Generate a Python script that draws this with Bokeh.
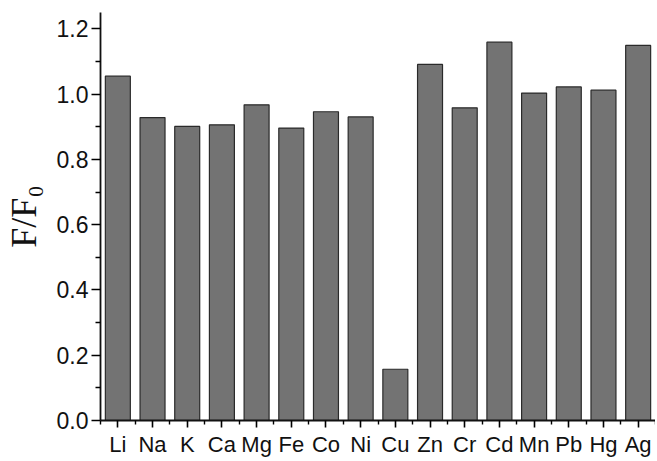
from bokeh.plotting import figure
from bokeh.models import FixedTicker, ColumnDataSource, Range1d, PrintfTickFormatter
from bokeh.embed import file_html
from bokeh.resources import INLINE

ions = ["Li", "Na", "K", "Ca", "Mg", "Fe", "Co", "Ni", "Cu", "Zn", "Cr", "Cd", "Mn", "Pb", "Hg", "Ag"]
ratio = [1.055, 0.928, 0.901, 0.906, 0.967, 0.896, 0.946, 0.930, 0.157, 1.091, 0.958, 1.159, 1.003, 1.022, 1.012, 1.149]
y_ticks = [0.0, 0.2, 0.4, 0.6, 0.8, 1.0, 1.2]
y_minor = [0.1, 0.3, 0.5, 0.7, 0.9, 1.1]

pos = list(range(1, len(ions) + 1))
src = ColumnDataSource(dict(x=pos, top=ratio))

p = figure(width=655, height=459, output_backend="svg", toolbar_location=None,
           x_range=Range1d(0.5, len(ions) + 0.5), y_range=Range1d(0, 1.25),
           min_border_left=99, min_border_right=0, min_border_top=12, min_border_bottom=34)
p.outline_line_color = None
p.grid.visible = False

p.vbar(x="x", top="top", width=0.72, bottom=0, source=src,
       fill_color="#737373", line_color="#2a2a2a", line_width=1.2)

xa = p.xaxis[0]
xa.ticker = FixedTicker(ticks=pos, minor_ticks=[i + 0.5 for i in range(0, len(ions) + 1)])
xa.major_label_overrides = {i + 1: ions[i] for i in range(len(ions))}
xa.major_tick_in = 0
xa.major_tick_out = 7
xa.minor_tick_in = 0
xa.minor_tick_out = 4
xa.major_label_standoff = 4
xa.major_label_text_font = "Liberation Sans"
xa.major_label_text_font_size = "22px"
xa.major_label_text_color = "#111111"
xa.axis_line_width = 1.8
xa.axis_line_color = "#111111"
xa.major_tick_line_width = 1.6
xa.minor_tick_line_width = 1.4

ya = p.yaxis[0]
ya.ticker = FixedTicker(ticks=y_ticks, minor_ticks=y_minor)
ya.formatter = PrintfTickFormatter(format="%.1f")
ya.major_tick_in = 0
ya.major_tick_out = 9
ya.minor_tick_in = 0
ya.minor_tick_out = 5
ya.major_label_standoff = 3
ya.major_label_text_font = "Liberation Sans"
ya.major_label_text_font_size = "23px"
ya.major_label_text_color = "#111111"
ya.axis_line_width = 1.8
ya.axis_line_color = "#111111"
ya.major_tick_line_width = 1.6
ya.minor_tick_line_width = 1.4
ya.axis_label = "F/F\u2080"
ya.axis_label_text_font = "Liberation Serif"
ya.axis_label_text_font_style = "normal"
ya.axis_label_text_font_size = "36px"
ya.axis_label_text_color = "#111111"
ya.axis_label_standoff = 10

open("out.html", "w").write(file_html(p, INLINE))
